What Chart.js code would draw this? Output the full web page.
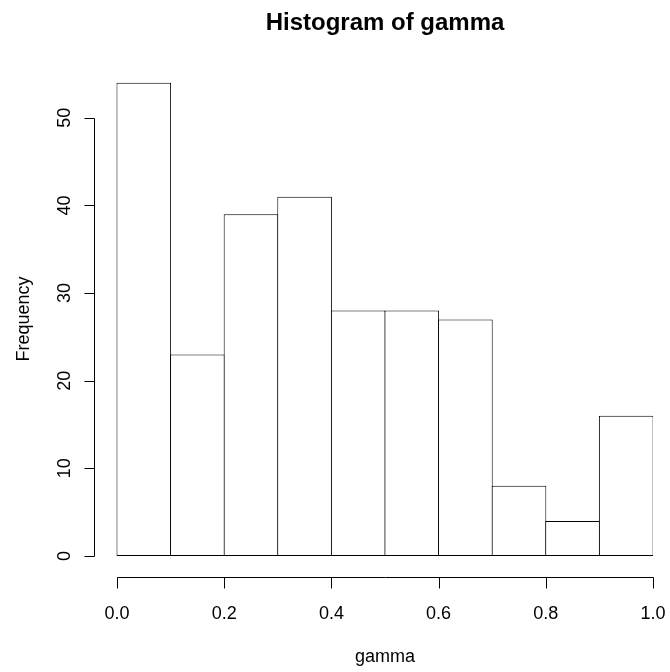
<!DOCTYPE html>
<html>
<head>
<meta charset="utf-8">
<title>Histogram of gamma</title>
<script src="https://cdn.jsdelivr.net/npm/chart.js@4.4.0/dist/chart.umd.min.js"></script>
<style>
  body { margin: 0; background: #fff; }
  canvas { display: block; }
</style>
</head>
<body>
<canvas id="hist" width="670" height="672"></canvas>
<script>
// histogram data
const breaks = [0, 0.1, 0.2, 0.3, 0.4, 0.5, 0.6, 0.7, 0.8, 0.9, 1.0];
const counts = [54, 23, 39, 41, 28, 28, 27, 8, 4, 16];
const xTicks = [0, 0.2, 0.4, 0.6, 0.8, 1.0];
const yTicks = [0, 10, 20, 30, 40, 50];
const xTickLabels = ['0.0', '0.2', '0.4', '0.6', '0.8', '1.0'];
const yTickLabels = ['0', '10', '20', '30', '40', '50'];

const FONT = '"Liberation Sans", Arial, Helvetica, sans-serif';

const barData = counts.map((c, i) => ({ x: (breaks[i] + breaks[i + 1]) / 2, y: c }));

// R-style axes, title and labels, placed with the chart's own scales
const rAxes = {
  id: 'rAxes',
  afterDraw(chart) {
    const ctx = chart.ctx;
    const xs = chart.scales.x;
    const ys = chart.scales.y;
    const crisp = v => Math.round(v) + 0.5;

    ctx.save();
    ctx.strokeStyle = '#000';
    ctx.fillStyle = '#000';
    ctx.lineWidth = 1;

    // x axis
    const axY = crisp(577);
    ctx.beginPath();
    ctx.moveTo(crisp(xs.getPixelForValue(xTicks[0])), axY);
    ctx.lineTo(crisp(xs.getPixelForValue(xTicks[xTicks.length - 1])), axY);
    xTicks.forEach(t => {
      const px = crisp(xs.getPixelForValue(t));
      ctx.moveTo(px, axY);
      ctx.lineTo(px, axY + 11);
    });
    ctx.stroke();

    ctx.font = '18px ' + FONT;
    ctx.textAlign = 'center';
    ctx.textBaseline = 'alphabetic';
    xTicks.forEach((t, i) => {
      ctx.fillText(xTickLabels[i], xs.getPixelForValue(t), 619);
    });

    // y axis
    const axX = crisp(94);
    ctx.beginPath();
    ctx.moveTo(axX, crisp(ys.getPixelForValue(yTicks[0])));
    ctx.lineTo(axX, crisp(ys.getPixelForValue(yTicks[yTicks.length - 1])));
    yTicks.forEach(t => {
      const py = crisp(ys.getPixelForValue(t));
      ctx.moveTo(axX, py);
      ctx.lineTo(axX - 10, py);
    });
    ctx.stroke();

    yTicks.forEach((t, i) => {
      ctx.save();
      ctx.translate(70, ys.getPixelForValue(t));
      ctx.rotate(-Math.PI / 2);
      ctx.fillText(yTickLabels[i], 0, 0);
      ctx.restore();
    });

    // axis titles
    const midX = (xs.getPixelForValue(0) + xs.getPixelForValue(1)) / 2;
    ctx.fillText('gamma', midX, 662);

    ctx.save();
    ctx.translate(29, 319);
    ctx.rotate(-Math.PI / 2);
    ctx.fillText('Frequency', 0, 0);
    ctx.restore();

    // main title
    ctx.font = 'bold 24px ' + FONT;
    ctx.fillText('Histogram of gamma', midX, 30);

    ctx.restore();
  }
};

new Chart(document.getElementById('hist'), {
  type: 'bar',
  data: {
    datasets: [{
      label: 'Frequency',
      data: barData,
      backgroundColor: '#ffffff',
      borderColor: '#000000',
      borderWidth: 1,
      borderSkipped: false,
      barPercentage: 1,
      categoryPercentage: 1.019,
      inflateAmount: 0
    }]
  },
  options: {
    responsive: false,
    animation: false,
    events: [],
    layout: {
      padding: { left: 94, right: 17, top: 60, bottom: 95 }
    },
    plugins: {
      legend: { display: false },
      tooltip: { enabled: false },
      title: { display: false }
    },
    scales: {
      x: {
        type: 'linear',
        display: false,
        offset: false,
        min: -0.0429,
        max: 1.0
      },
      y: {
        display: false,
        min: -2.4,
        max: 56.6
      }
    }
  },
  plugins: [rAxes]
});
</script>
</body>
</html>
